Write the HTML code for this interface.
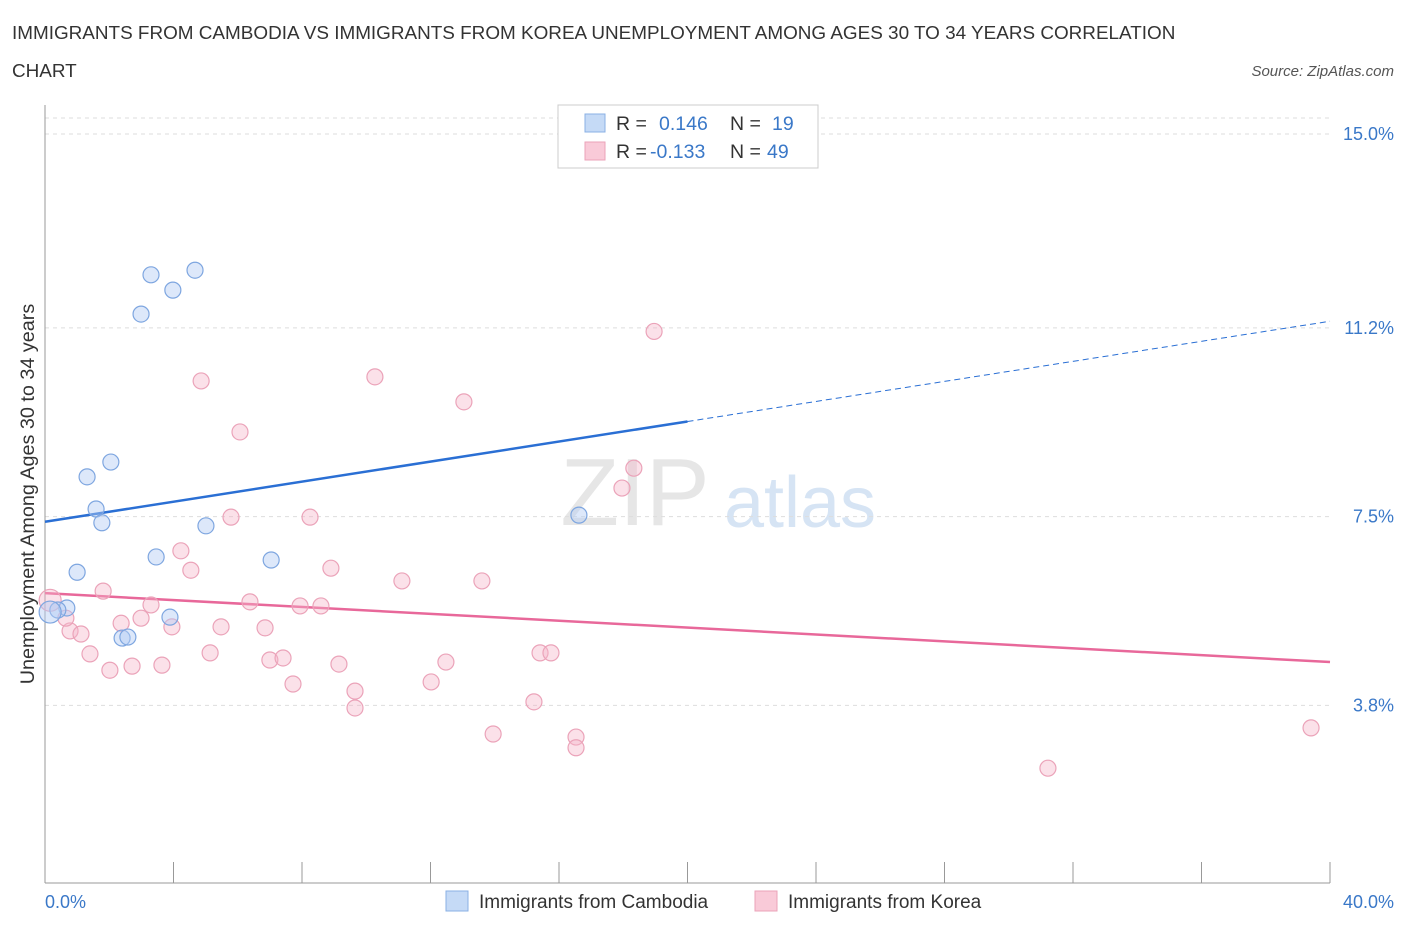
<!DOCTYPE html>
<html><head><meta charset="utf-8"><style>
body{margin:0;background:#fff;font-family:"Liberation Sans",sans-serif}
svg text{font-family:"Liberation Sans",sans-serif}
</style></head><body>
<svg width="1406" height="930" viewBox="0 0 1406 930">
<text x="12" y="39" font-size="18.9" fill="#333">IMMIGRANTS FROM CAMBODIA VS IMMIGRANTS FROM KOREA UNEMPLOYMENT AMONG AGES 30 TO 34 YEARS CORRELATION</text>
<text x="12" y="77" font-size="18.9" fill="#333">CHART</text>
<text x="1394" y="76" font-size="15" fill="#555" font-style="italic" text-anchor="end">Source: ZipAtlas.com</text>
<text x="635" y="525" font-size="96" fill="#e6e6e6" font-family="Liberation Serif" text-anchor="middle">ZIP</text>
<text x="800" y="527" font-size="72" fill="#d6e4f4" text-anchor="middle">atlas</text>
<g id="grid"></g>
<line x1="45" y1="105" x2="45" y2="883" stroke="#999"/>
<line x1="45" y1="883" x2="1330" y2="883" stroke="#999"/>
<g id="xticks"></g>
<text transform="translate(34,494) rotate(-90)" font-size="19.8" fill="#333" text-anchor="middle">Unemployment Among Ages 30 to 34 years</text>
<text x="45" y="908" font-size="18" fill="#3a78c8">0.0%</text>
<text x="1394" y="908" font-size="18" fill="#3a78c8" text-anchor="end">40.0%</text>
<g id="lines"></g>
<g id="pts"></g>
<g>
<rect x="558" y="105" width="260" height="63" fill="#fff" stroke="#ccc"/>
<rect x="585" y="114" width="20" height="18" fill="#c5daf6" stroke="#8ab0e4"/>
<text x="616" y="130" font-size="19.5" fill="#333">R =</text><text x="659" y="130" font-size="19.5" fill="#3a78c8">0.146</text>
<text x="730" y="130" font-size="19.5" fill="#333">N =</text><text x="772" y="130" font-size="19.5" fill="#3a78c8">19</text>
<rect x="585" y="142" width="20" height="18" fill="#f9cad8" stroke="#eba3b9"/>
<text x="616" y="158" font-size="19.5" fill="#333">R =</text><text x="650" y="158" font-size="19.5" fill="#3a78c8">-0.133</text>
<text x="730" y="158" font-size="19.5" fill="#333">N =</text><text x="767" y="158" font-size="19.5" fill="#3a78c8">49</text>
</g>
<g><rect x="446" y="891" width="22" height="20" fill="#c5daf6" stroke="#8ab0e4"/><text x="479" y="908" font-size="19" fill="#333">Immigrants from Cambodia</text></g>
<g><rect x="755" y="891" width="22" height="20" fill="#f9cad8" stroke="#eba3b9"/><text x="788" y="908" font-size="19" fill="#333">Immigrants from Korea</text></g>
</svg>
<script>
const yTicks=[15.0,11.2,7.5,3.8];
const yTickLabels=["15.0%","11.2%","7.5%","3.8%"];
const camX=[3.30,3.98,4.67,2.99,2.05,1.31,1.59,1.77,5.01,3.46,7.04,1.00,0.68,0.40,3.89,2.40,2.58,16.62,0.16];
const camY=[12.24,11.94,12.33,11.47,8.57,8.28,7.65,7.38,7.32,6.71,6.65,6.41,5.71,5.67,5.53,5.12,5.14,7.53,5.63];
const korX=[18.96,4.86,10.27,13.04,6.07,18.33,17.96,5.79,8.25,4.23,4.54,8.90,11.11,13.60,1.81,3.30,6.38,7.94,8.59,2.99,2.37,3.95,5.48,6.85,0.78,1.12,0.65,1.40,5.14,7.00,7.41,9.15,12.48,2.02,2.71,3.64,7.72,12.02,9.65,9.65,15.22,15.41,15.75,13.95,16.53,16.53,31.22,39.41,0.16];
const korY=[11.13,10.16,10.24,9.75,9.16,8.45,8.06,7.49,7.49,6.83,6.45,6.49,6.24,6.24,6.04,5.77,5.83,5.75,5.75,5.51,5.41,5.34,5.34,5.32,5.26,5.20,5.51,4.81,4.83,4.69,4.73,4.61,4.65,4.49,4.57,4.59,4.22,4.26,4.08,3.75,3.87,4.83,4.83,3.24,3.18,2.97,2.57,3.36,5.86];
const camTrend=[7.40,11.33];
const korTrend=[6.00,4.65];
const sx=v=>45+v*32.125, sy=v=>134+(15-v)*51.02;
const NS="http://www.w3.org/2000/svg";
function mk(t,a,p){const e=document.createElementNS(NS,t);for(const k in a)e.setAttribute(k,a[k]);document.getElementById(p).appendChild(e);return e;}
const ly=mk('line',{x1:45,x2:1330,y1:118,y2:118,stroke:'#ddd','stroke-dasharray':'4,4'},'grid');


yTicks.forEach((v,i)=>{
 const l=mk('line',{x1:45,x2:1330,y1:sy(v),y2:sy(v),stroke:'#ddd','stroke-dasharray':'4,4'},'grid');
 
 
 const t=mk('text',{x:1394,y:sy(v)+6,'font-size':18,fill:'#3a78c8','text-anchor':'end'},'grid');
 t.textContent=yTickLabels[i];
 
 
});
for(let i=0;i<=10;i++){
 const l=mk('line',{x1:sx(i*4),x2:sx(i*4),y1:862,y2:883,stroke:'#999'},'xticks');
 
 
}
const xm=20;
const cy=v=>camTrend[0]+(camTrend[1]-camTrend[0])*v/40;
const b1=mk('line',{x1:sx(0),y1:sy(cy(0)),x2:sx(xm),y2:sy(cy(xm)),stroke:'#2a6fd4','stroke-width':2.5},'lines');


const b2=mk('line',{x1:sx(xm),y1:sy(cy(xm)),x2:sx(40),y2:sy(cy(40)),stroke:'#2a6fd4','stroke-width':1,'stroke-dasharray':'6,4'},'lines');


const p1=mk('line',{x1:sx(0),y1:sy(korTrend[0]),x2:sx(40),y2:sy(korTrend[1]),stroke:'#e8689a','stroke-width':2.5},'lines');


korX.forEach((x,i)=>{
 const c=mk('circle',{cx:sx(x),cy:sy(korY[i]),r:i==48?11:8,fill:'rgba(246,180,200,0.4)',stroke:'#eba3b9','stroke-width':1.2},'pts');
 
 
});
camX.forEach((x,i)=>{
 const c=mk('circle',{cx:sx(x),cy:sy(camY[i]),r:i==18?11:8,fill:'rgba(180,205,245,0.45)',stroke:'#7ea6e0','stroke-width':1.2},'pts');
 
 
});
</script>
</body></html>
